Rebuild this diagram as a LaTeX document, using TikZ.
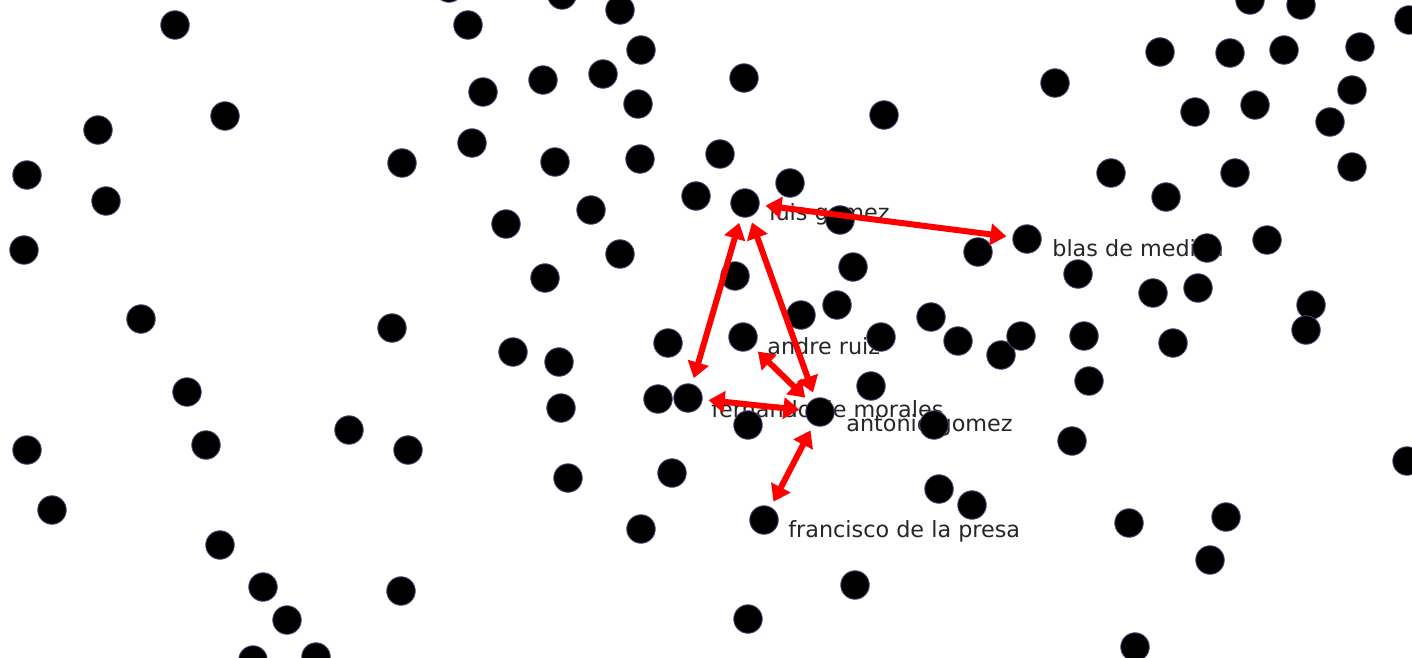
\documentclass[tikz,border=0pt]{standalone}
\usepackage{fontspec}
\setmainfont{DejaVu Sans}
\usetikzlibrary{arrows.meta}
\pgfdeclarelayer{under}
\pgfsetlayers{under,main}
\tikzset{
  dot/.style={circle, fill=black, draw={rgb,255:red,70;green,70;blue,120}, line width=0.5pt, inner sep=0pt, minimum size=0.57cm},
  name label/.style={anchor=base west, inner sep=0pt, text=black!85, font=\fontsize{12.7}{15}\selectfont},
  link/.style={<->, red, line width=0.12cm, shorten >=0.12cm, shorten <=0.12cm},
}
\begin{document}
\begin{tikzpicture}[x=0.02cm, y=-0.02cm, >={Triangle[length=0.32cm,width=0.42cm]}]
\useasboundingbox (0,0) rectangle (1412,657);
\clip (0,0) rectangle (1412,657);
\begin{pgfonlayer}{under}
  \fill[white] (0,0) rectangle (1412,657);
\end{pgfonlayer}
% the crowd
\foreach \x/\y [count=\i] in {175/25, 98/130, 225/116, 27/175, 106/201, 24/250, 141/319, 402/163,
    392/328, 187/392, 27/450, 206/445, 349/430, 408/450, 52/510, 220/545, 263/587, 287/620,
    401/591, 253/660, 316/657,
    449/-12, 562/-5, 620/10, 468/25, 483/92, 543/80, 603/74, 641/50, 638/104, 472/143, 555/162,
    640/159, 720/154, 744/78, 696/196, 790/183, 506/224, 591/210, 620/254, 545/278, 735/276,
    840/220, 853/267, 801/315, 837/305, 668/343, 513/352, 559/362, 561/408, 658/399, 748/425,
    568/478, 672/473, 641/529, 748/619, 855/585, 884/115, 881/337, 871/386, 931/317, 958/341,
    1001/355, 1021/336, 934/425, 939/489, 972/505,
    1055/83, 1111/173, 978/252, 1078/274, 1084/336, 1089/381, 1072/441, 1160/52, 1230/53,
    1284/50, 1360/47, 1352/90, 1195/112, 1255/105, 1330/122, 1352/167, 1235/173, 1166/197,
    1207/248, 1267/240, 1153/293, 1198/288, 1173/343, 1311/305, 1306/330, 1250/0, 1301/5,
    1409/20, 1407/461, 1129/523, 1226/517, 1210/560, 1135/647}
  \node[dot] (d\i) at (\x,\y) {};
% people
\node[dot] (luis) at (745,203) {};
\node[dot] (blas) at (1027,239) {};
\node[dot] (andre) at (743,337) {};
\node[dot] (fernando) at (688,398) {};
\node[dot] (antonio) at (820,412) {};
\node[dot] (francisco) at (764,520) {};
\begin{pgfonlayer}{under}
  \node[name label] (luis-txt) at ([shift={(24,17)}]luis.center) {luis gomez};
  \node[name label] (blas-txt) at ([shift={(25,17)}]blas.center) {blas de medina};
  \node[name label] (andre-txt) at ([shift={(24,17)}]andre.center) {andre ruiz};
  \node[name label] (fernando-txt) at ([shift={(23,19)}]fernando.center) {fernando de morales};
  \node[name label] (antonio-txt) at ([shift={(26,19)}]antonio.center) {antonio gomez};
  \node[name label] (francisco-txt) at ([shift={(24,17)}]francisco.center) {francisco de la presa};
\end{pgfonlayer}
% links
\draw[link] (luis) -- (blas);
\draw[link] (luis) -- (fernando);
\draw[link] (luis) -- (antonio);
\draw[link] (fernando) -- (antonio);
\draw[link] (andre) -- (antonio);
\draw[link] (antonio) -- (francisco);
\end{tikzpicture}
\end{document}
